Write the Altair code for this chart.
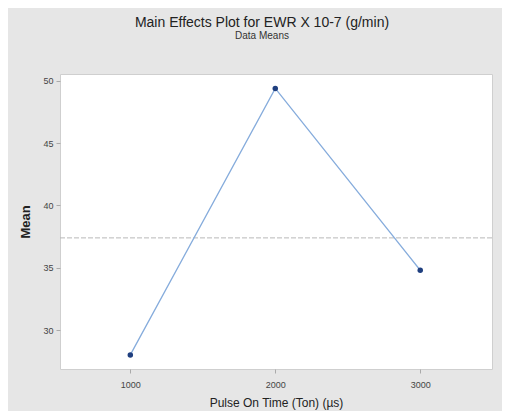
import altair as alt
import pandas as pd

levels = [1000, 2000, 3000]
means = [28.0, 49.4, 34.8]
grand_mean = 37.4
y_ticks = [30, 35, 40, 45, 50]

df = pd.DataFrame({"ton": levels, "mean": means})
ref = pd.DataFrame({"gm": [grand_mean]})

FONT = "Liberation Sans"

x_enc = alt.X("ton:Q", scale=alt.Scale(domain=[515, 3495], nice=False, zero=False),
              axis=alt.Axis(values=levels, format="d", title="Pulse On Time (Ton) (µs)",
                            grid=False, domain=False, tickSize=4, tickColor="#aaaaaa",
                            labelFontSize=9, labelColor="#444444", labelPadding=7,
                            titleFontSize=12, titleFontWeight="normal", titleColor="#222222",
                            titlePadding=8, labelFont=FONT, titleFont=FONT))
y_enc = alt.Y("mean:Q", scale=alt.Scale(domain=[26.87, 50.56], nice=False, zero=False),
              axis=alt.Axis(values=y_ticks, format="d", title="Mean",
                            grid=False, domain=False, tickSize=4, tickColor="#aaaaaa",
                            labelFontSize=9, labelColor="#444444", labelPadding=3,
                            titleFontSize=13, titleFontWeight="bold", titleColor="#222222",
                            titlePadding=10, labelFont=FONT, titleFont=FONT))

line = alt.Chart(df).mark_line(color="#86acdc", strokeWidth=1.3).encode(x=x_enc, y=y_enc)
pts = alt.Chart(df).mark_point(filled=True, color="#1f3f7f", size=30, opacity=1).encode(x="ton:Q", y="mean:Q")
rule = alt.Chart(ref).mark_rule(color="#b8b8b8", strokeWidth=1, strokeDash=[5, 2]).encode(y="gm:Q")

chart = alt.layer(rule, line, pts).properties(
    width=432, height=295,
    title=alt.TitleParams("Main Effects Plot for EWR X 10-7 (g/min)", subtitle="Data Means",
                          fontSize=14, fontWeight="normal", color="#222222", font=FONT,
                          subtitleFontSize=10, subtitleColor="#333333", subtitleFont=FONT,
                          subtitlePadding=1, offset=33, dx=-14, anchor="middle"),
    background="#e6e6e6",
    padding={"left": 52, "top": 66, "right": 10, "bottom": 42},
    autosize=alt.AutoSizeParams(type="none"),
).configure_view(fill="white", stroke="#cfcfcf", strokeWidth=1)

chart.save("out.html", embed_options={"renderer": "svg", "actions": False})
